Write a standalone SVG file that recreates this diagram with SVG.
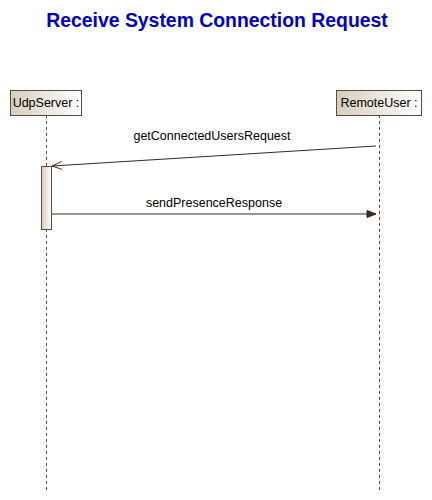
<svg xmlns="http://www.w3.org/2000/svg" width="432" height="500" viewBox="0 0 432 500">
<style>
.title{font-family:"Liberation Sans",Arial,sans-serif;font-weight:bold;font-size:19.4px;fill:#0000cc}
.lbl{font-family:"Liberation Sans",Arial,sans-serif;font-size:12.5px;fill:#000}
.name{font-family:"Liberation Sans",Arial,sans-serif;font-size:12.5px;fill:#000}
.box{fill:url(#g);stroke:#5a4a3c;stroke-width:1}
.life{stroke:#5a4a3c;stroke-width:1;stroke-dasharray:3,3;fill:none}
.act{fill:url(#g);stroke:#5a4a3c;stroke-width:1}
.msg{stroke:#3a2a20;stroke-width:1.2;fill:none}
</style>
<defs>
<linearGradient id="g" x1="0" y1="0" x2="1" y2="0">
<stop offset="0" stop-color="#d6cdbd"/>
<stop offset="1" stop-color="#ffffff"/>
</linearGradient>
<marker id="open" markerWidth="12" markerHeight="10" refX="11" refY="5" orient="auto" markerUnits="userSpaceOnUse">
<path d="M1,1 L11,5 L1,9" fill="none" stroke="#3a2a20" stroke-width="1"/>
</marker>
<marker id="fill" markerWidth="12" markerHeight="10" refX="10" refY="5" orient="auto" markerUnits="userSpaceOnUse">
<path d="M1,1.5 L10,5 L1,8.5 Z" fill="#3a2a20" stroke="#3a2a20" stroke-width="1"/>
</marker>
</defs>
<rect width="432" height="500" fill="#fff"/>
<text class="title" x="217" y="27" text-anchor="middle">Receive System Connection Request</text>
<g id="UdpServer">
<line class="life" x1="46.5" y1="115" x2="46.5" y2="490"/>
<rect class="box" x="10.5" y="90.5" width="71" height="25"/>
<text class="name" x="46" y="107" text-anchor="middle">UdpServer :</text>
<rect class="act" x="41.5" y="166.5" width="10" height="63"/>
</g>
<g id="RemoteUser">
<line class="life" x1="379.5" y1="115" x2="379.5" y2="490"/>
<rect class="box" x="336.5" y="90.5" width="85" height="25"/>
<text class="name" x="379" y="107" text-anchor="middle">RemoteUser :</text>
</g>
<g id="connectors">
<line class="msg" x1="376" y1="146" x2="52" y2="166" marker-end="url(#open)"/>
<text class="lbl" x="212" y="140" text-anchor="middle">getConnectedUsersRequest</text>
<line class="msg" x1="52" y1="214" x2="376" y2="214" marker-end="url(#fill)"/>
<text class="lbl" x="214" y="207" text-anchor="middle">sendPresenceResponse</text>
</g>
</svg>
